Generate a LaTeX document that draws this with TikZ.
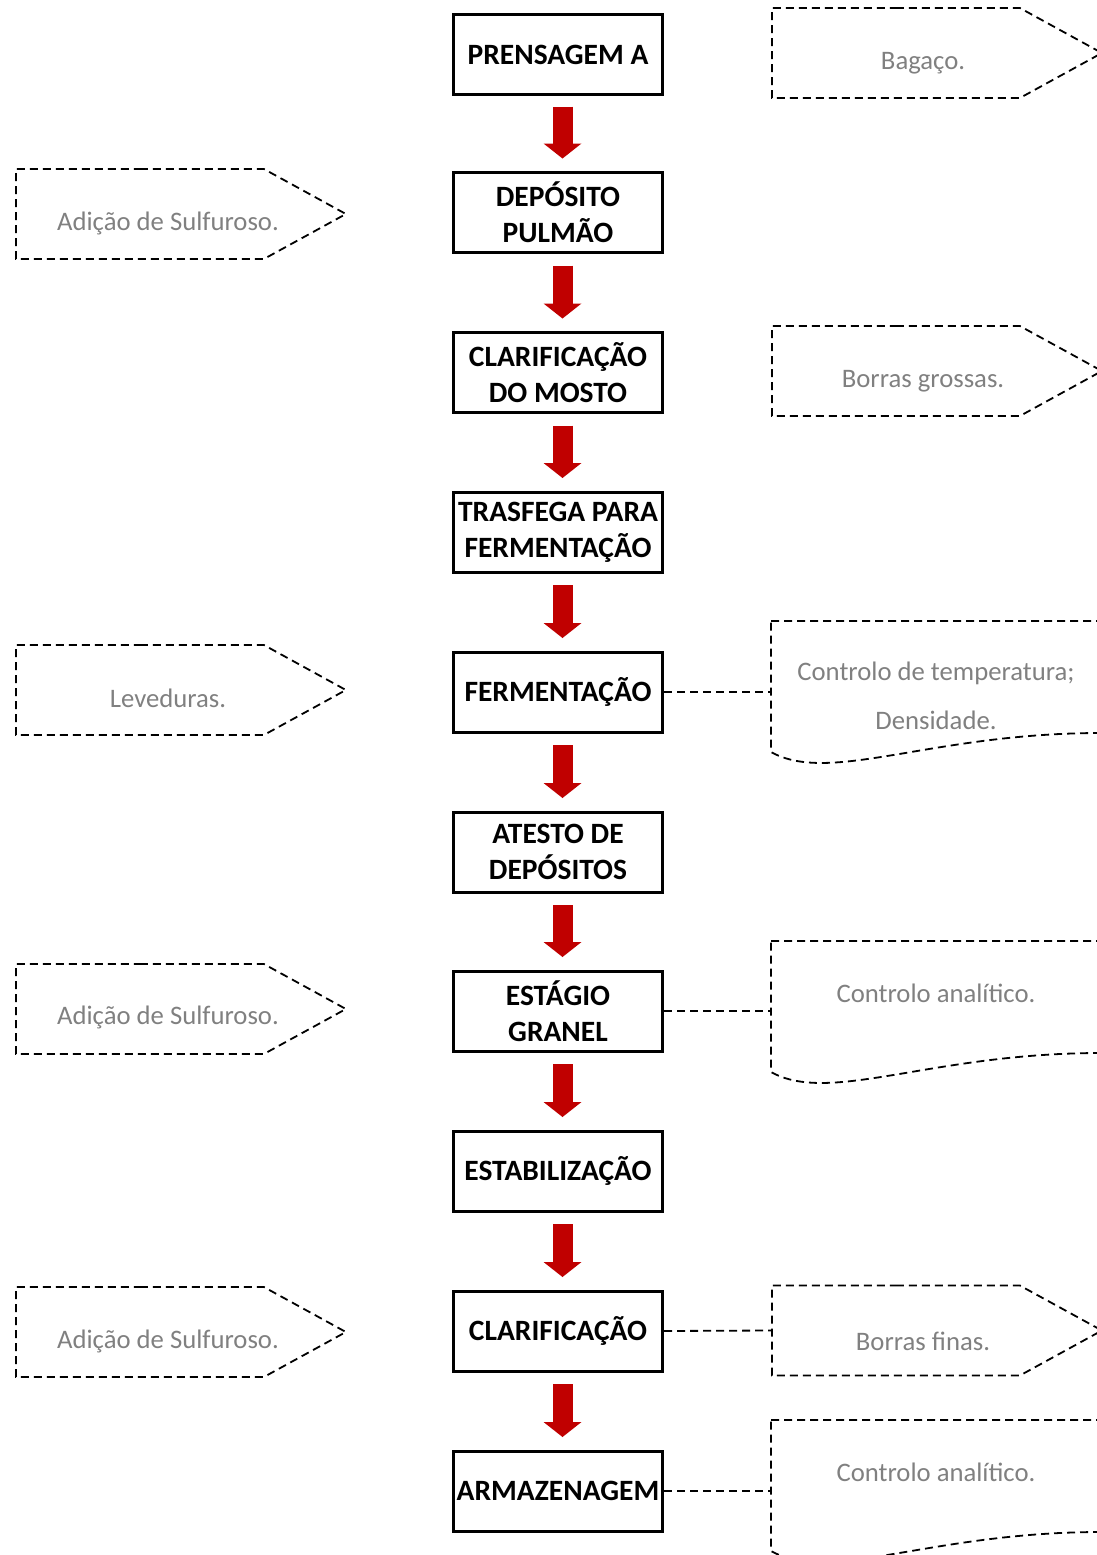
\documentclass[tikz,border=0pt]{standalone}
\usepackage{fontspec}
\setmainfont{Carlito}
\usetikzlibrary{shapes,arrows.meta,positioning,calc}
\definecolor{vermelho}{RGB}{192,0,0}
\definecolor{cinza}{RGB}{128,128,128}

\begin{document}
\begin{tikzpicture}[x=1pt,y=-1pt]
  \tikzstyle{etapa}=[rectangle, draw, line width=3pt, minimum width=209pt, minimum height=80pt, inner xsep=0pt, inner ysep=2pt, align=center, font=\fontsize{29.5}{36}\selectfont\bfseries]
  \tikzstyle{seta}=[draw=vermelho, line width=20pt, -{Triangle[width=38pt,length=15pt,line width=0pt,fill=vermelho]}]
  \tikzstyle{tracejado}=[line width=1.8pt, dash pattern=on 8pt off 5pt]
  \tikzstyle{nota}=[signal, signal to=east, signal pointer angle=57.5, draw, tracejado, minimum width=330pt, minimum height=90pt, inner sep=0pt, anchor=west]
  \tikzstyle{doc}=[draw, tracejado]
  \tikzstyle{texto}=[text=cinza, font=\fontsize{26.7}{49}\selectfont, align=center]

  \useasboundingbox (0,0) rectangle (1097,1555);
  \clip (0,0) rectangle (1097,1555);

  % etapas do processo
  \node[etapa] (prensagem) at (558,54.5) {PRENSAGEM A};
  \node[etapa] (pulmao) at (558,212.5) {DEPÓSITO\\PULMÃO};
  \node[etapa] (clarmosto) at (558,372.5) {CLARIFICAÇÃO\\DO MOSTO};
  \node[etapa] (trasfega) at (558,532) {TRASFEGA PARA\\FERMENTAÇÃO};
  \node[etapa] (fermentacao) at (558,692) {FERMENTAÇÃO};
  \node[etapa] (atesto) at (558,852) {ATESTO DE\\DEPÓSITOS};
  \node[etapa] (estagio) at (558,1011) {ESTÁGIO\\GRANEL};
  \node[etapa] (estabilizacao) at (558,1171) {ESTABILIZAÇÃO};
  \node[etapa] (clarificacao) at (558,1331) {CLARIFICAÇÃO};
  \node[etapa] (armazenagem) at (558,1491) {ARMAZENAGEM};

  % setas
  \draw[seta] ([xshift=4.5pt,yshift=-10.5pt]prensagem.south) -- ([xshift=4.5pt,yshift=12.5pt]pulmao.north);
  \draw[seta] ([xshift=4.5pt,yshift=-11.5pt]pulmao.south) -- ([xshift=4.5pt,yshift=12.5pt]clarmosto.north);
  \draw[seta] ([xshift=4.5pt,yshift=-11.5pt]clarmosto.south) -- ([xshift=4.5pt,yshift=12.5pt]trasfega.north);
  \draw[seta] ([xshift=4.5pt,yshift=-11.5pt]trasfega.south) -- ([xshift=4.5pt,yshift=12.5pt]fermentacao.north);
  \draw[seta] ([xshift=4.5pt,yshift=-11.5pt]fermentacao.south) -- ([xshift=4.5pt,yshift=12.5pt]atesto.north);
  \draw[seta] ([xshift=4.5pt,yshift=-11.5pt]atesto.south) -- ([xshift=4.5pt,yshift=12.5pt]estagio.north);
  \draw[seta] ([xshift=4.5pt,yshift=-11.5pt]estagio.south) -- ([xshift=4.5pt,yshift=12.5pt]estabilizacao.north);
  \draw[seta] ([xshift=4.5pt,yshift=-11.5pt]estabilizacao.south) -- ([xshift=4.5pt,yshift=12.5pt]clarificacao.north);
  \draw[seta] ([xshift=4.5pt,yshift=-11.5pt]clarificacao.south) -- ([xshift=4.5pt,yshift=12.5pt]armazenagem.north);

  % entradas (esquerda)
  \node[nota] (sulfuroso1) at (15,214) {};
  \node[texto] (t-sulfuroso1) at (168,223) {Adição de Sulfuroso.};
  \node[nota] (leveduras) at (15,690) {};
  \node[texto] (t-leveduras) at (168,698) {Leveduras.};
  \node[nota] (sulfuroso2) at (15,1009) {};
  \node[texto] (t-sulfuroso2) at (168,1017) {Adição de Sulfuroso.};
  \node[nota] (sulfuroso3) at (15,1332) {};
  \node[texto] (t-sulfuroso3) at (168,1341) {Adição de Sulfuroso.};

  % saidas (direita)
  \node[nota] (bagaco) at (771,53) {};
  \node[texto] (t-bagaco) at (923,63) {Bagaço.};
  \node[nota] (borrasgrossas) at (771,371) {};
  \node[texto] (t-borrasgrossas) at (923,381) {Borras grossas.};
  \node[nota] (borrasfinas) at (771,1330.5) {};
  \node[texto] (t-borrasfinas) at (923,1341) {Borras finas.};

  % controlos
  \draw[doc] (771,621) -- (1101,621) -- (1101,733) .. controls (930,733) and (830,785) .. (771,752) -- cycle;
  \node[texto] (t-temperatura) at (936,696) {Controlo de temperatura;\\Densidade.};
  \draw[doc] (771,941) -- (1101,941) -- (1101,1053) .. controls (930,1053) and (830,1105) .. (771,1072) -- cycle;
  \node[texto] (t-analitico1) at (936,993) {Controlo analítico.};
  \draw[doc] (771,1420) -- (1101,1420) -- (1101,1532) .. controls (930,1532) and (830,1584) .. (771,1551) -- cycle;
  \node[texto] (t-analitico2) at (936,1472) {Controlo analítico.};

  \coordinate (c-temperatura) at (771,692);
  \coordinate (c-analitico1) at (771,1011);
  \coordinate (c-analitico2) at (771,1491);

  % ligacoes
  \draw[tracejado] (fermentacao.east) -- (c-temperatura);
  \draw[tracejado] (estagio.east) -- (c-analitico1);
  \draw[tracejado] (clarificacao.east) -- (borrasfinas.west);
  \draw[tracejado] (armazenagem.east) -- (c-analitico2);
\end{tikzpicture}
\end{document}
